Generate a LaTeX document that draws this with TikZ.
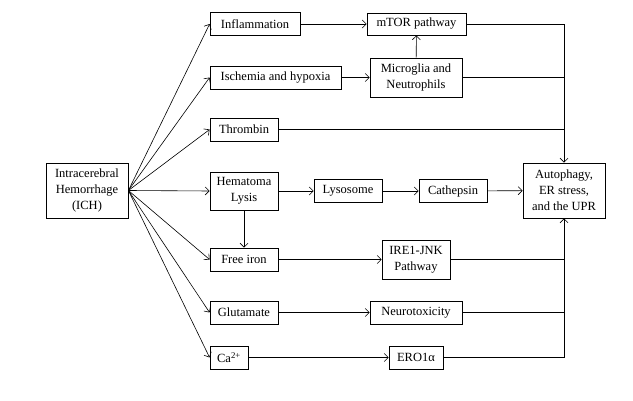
\documentclass[tikz,border=0pt]{standalone}
\usepackage{fontspec}
\setmainfont{Liberation Serif}
\usetikzlibrary{arrows.meta}
\begin{document}
\begin{tikzpicture}[x=1pt,y=-1pt,
  bx/.style={draw, line width=0.8pt, inner sep=0pt, align=center,
    font=\fontsize{12.5}{16}\selectfont},
  ln/.style={line width=0.6pt},
  arr/.style={ln, -{Straight Barb[length=4pt,width=8pt]}}]
\useasboundingbox (0,0) rectangle (633,401);
\node[bx, minimum width=82, minimum height=55] (ich) at (87,190.5) {Intracerebral\\Hemorrhage\\(ICH)};
\node[bx, minimum width=90, minimum height=23] (infl) at (255,24) {Inflammation};
\node[bx, minimum width=131, minimum height=23] (isch) at (275.5,77.5) {Ischemia and hypoxia};
\node[bx, minimum width=68, minimum height=23] (thr) at (244,129.5) {Thrombin};
\node[bx, minimum width=68, minimum height=38] (hem) at (244,191) {Hematoma\\Lysis};
\node[bx, minimum width=68, minimum height=23] (fe) at (244,259.5) {Free iron};
\node[bx, minimum width=68, minimum height=23] (glu) at (244,312.5) {Glutamate};
\node[bx, minimum width=38, minimum height=23] (ca) at (229,357.5) {Ca\textsuperscript{2+}};
\node[bx, minimum width=99, minimum height=22] (mtor) at (416.5,24) {mTOR pathway};
\node[bx, minimum width=92, minimum height=39] (micro) at (416,77.5) {Microglia and\\Neutrophils};
\node[bx, minimum width=68, minimum height=23] (lyso) at (348,191) {Lysosome};
\node[bx, minimum width=68, minimum height=23] (cath) at (453,191) {Cathepsin};
\node[bx, minimum width=82, minimum height=55] (auto) at (564,190.5) {Autophagy,\\ER stress,\\and the UPR};
\node[bx, minimum width=68, minimum height=39] (ire) at (416,259.5) {IRE1-JNK\\Pathway};
\node[bx, minimum width=92, minimum height=23] (neuro) at (416,312.5) {Neurotoxicity};
\node[bx, minimum width=54, minimum height=23] (ero) at (416,357.5) {ERO1α};
% from ICH
\foreach \t in {infl,isch,thr,hem,fe,glu,ca}
  \draw[arr] (ich.east) -- (\t.west);
\draw[arr] (infl) -- (mtor);
\draw[arr] (isch) -- (micro);
\draw[arr] (micro) -- (mtor);
\draw[arr] (hem) -- (lyso);
\draw[arr] (lyso) -- (cath);
\draw[arr] (cath) -- (auto);
\draw[arr] (hem) -- (fe);
\draw[arr] (fe) -- (ire);
\draw[arr] (glu) -- (neuro);
\draw[arr] (ca) -- (ero);
% to autophagy
\draw[arr] (mtor.east) -| (auto.north);
\draw[ln] (micro.east) -- (micro.east -| auto.north);
\draw[ln] (thr.east) -- (thr.east -| auto.north);
\draw[arr] (ero.east) -| (auto.south);
\draw[ln] (ire.east) -- (ire.east -| auto.south);
\draw[ln] (neuro.east) -- (neuro.east -| auto.south);
\end{tikzpicture}
\end{document}
